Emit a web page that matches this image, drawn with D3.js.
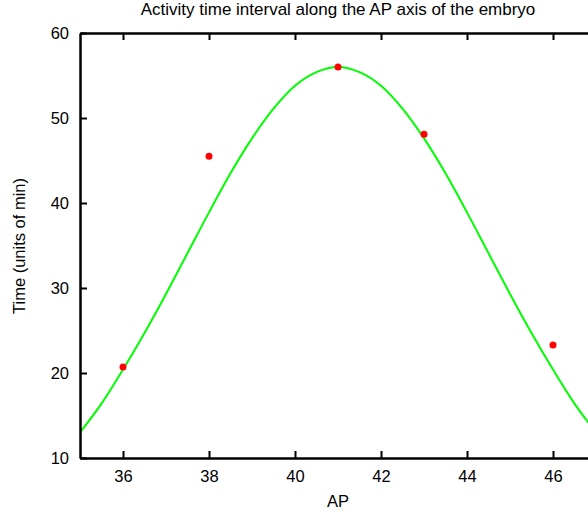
<!DOCTYPE html>
<html>
<head>
<meta charset="utf-8">
<script src="https://cdn.jsdelivr.net/npm/d3@7"></script>
<style>
html,body{margin:0;padding:0;background:#fff;overflow:hidden;}
text{font-family:"Liberation Sans",Arial,sans-serif;}
</style>
</head>
<body>
<svg id="chart" width="588" height="514"></svg>
<script>
const title = "Activity time interval along the AP axis of the embryo";
const xLabel = "AP";
const yLabel = "Time (units of min)";
const xTicks = [36, 38, 40, 42, 44, 46];
const yTicks = [10, 20, 30, 40, 50, 60];
// measured data points
const pointAP = [36, 38, 41, 43, 46];
const pointTime = [20.7, 45.5, 56.0, 48.1, 23.3];
// fitted curve
const curveAP =   [35, 35.5, 36, 36.5, 37, 37.5, 38, 38.5, 39, 39.5, 40, 40.5, 41, 41.5, 42, 42.5, 43, 43.5, 44, 44.5, 45, 45.5, 46, 46.5, 47];
const curveTime = [13.0, 16.4, 20.4, 24.7, 29.3, 34.1, 38.9, 43.5, 47.6, 51.1, 53.8, 55.4, 56.0, 55.4, 53.8, 51.1, 47.6, 43.5, 38.9, 34.1, 29.3, 24.7, 20.4, 16.4, 13.0];

const FS = 16.5;
const svg = d3.select("#chart");
const pL = 80, pR = 596, pT = 33, pB = 458;
const x = d3.scaleLinear().domain([35, 47]).range([pL, pR]);
const y = d3.scaleLinear().domain([10, 60]).range([pB, pT]);

svg.append("defs").append("clipPath").attr("id", "clip")
  .append("rect").attr("x", pL).attr("y", pT).attr("width", pR - pL).attr("height", pB - pT);

// curve
const line = d3.line().x((d, i) => x(curveAP[i])).y(d => y(d)).curve(d3.curveCatmullRom);
svg.append("path").datum(curveTime)
  .attr("clip-path", "url(#clip)")
  .attr("d", line).attr("fill", "none").attr("stroke", "#00ff00").attr("stroke-width", 2);

// points
svg.append("g").selectAll("circle").data(pointTime).join("circle")
  .attr("cx", (d, i) => x(pointAP[i])).attr("cy", d => y(d)).attr("r", 3.5).attr("fill", "#ff0000");

// axes
const axStyle = g => {
  g.select(".domain").attr("stroke", "#000").attr("stroke-width", 2.5);
  g.selectAll(".tick line").attr("stroke", "#000").attr("stroke-width", 2);
  g.selectAll(".tick text").attr("font-size", FS).attr("fill", "#000")
    .attr("font-family", "Liberation Sans, Arial, sans-serif");
};
svg.append("g").attr("transform", `translate(0,${pB})`)
  .call(d3.axisBottom(x).tickValues(xTicks).tickSizeInner(-7).tickSizeOuter(0).tickPadding(12))
  .call(axStyle);
svg.append("g").attr("transform", `translate(0,${pT})`)
  .call(d3.axisTop(x).tickValues(xTicks).tickSizeInner(-7).tickSizeOuter(0).tickFormat(""))
  .call(axStyle);
svg.append("g").attr("transform", `translate(${pL},0)`)
  .call(d3.axisLeft(y).tickValues(yTicks).tickSizeInner(-7).tickSizeOuter(0).tickPadding(11))
  .call(axStyle);

// labels
svg.append("text").attr("x", 338).attr("y", 15).attr("text-anchor", "middle")
  .attr("font-size", 17).text(title);
svg.append("text").attr("x", 338).attr("y", 507).attr("text-anchor", "middle")
  .attr("font-size", FS).text(xLabel);
svg.append("text").attr("transform", "translate(25,246) rotate(-90)").attr("text-anchor", "middle")
  .attr("font-size", FS).text(yLabel);
</script>
</body>
</html>
